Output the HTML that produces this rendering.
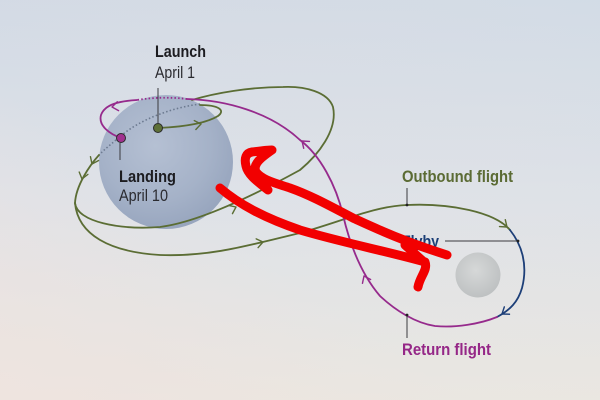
<!DOCTYPE html>
<html>
<head>
<meta charset="utf-8">
<style>
  html,body{margin:0;padding:0;width:600px;height:400px;overflow:hidden;}
  svg{display:block;}
  .b{font-family:"Liberation Sans Narrow","Liberation Sans",sans-serif;font-weight:bold;font-size:17px;}
  .r{font-family:"Liberation Sans Narrow","Liberation Sans",sans-serif;font-weight:normal;font-size:17px;}
</style>
</head>
<body>
<svg width="600" height="400" viewBox="0 0 600 400" xmlns="http://www.w3.org/2000/svg">
  <defs>
    <linearGradient id="bg" x1="0" y1="0" x2="0" y2="1">
      <stop offset="0" stop-color="#d2dae5"/>
      <stop offset="0.5" stop-color="#dee2e8"/>
      <stop offset="1" stop-color="#eae7e1"/>
    </linearGradient>
    <linearGradient id="bg2" x1="0" y1="1" x2="1" y2="0">
      <stop offset="0" stop-color="#f0e2de" stop-opacity="0.7"/>
      <stop offset="0.4" stop-color="#f0e2de" stop-opacity="0"/>
      <stop offset="1" stop-color="#d3e0e8" stop-opacity="0.3"/>
    </linearGradient>
    <radialGradient id="earth" cx="0.42" cy="0.38" r="0.68">
      <stop offset="0" stop-color="#b5c0d3"/>
      <stop offset="0.6" stop-color="#a5b2c8"/>
      <stop offset="1" stop-color="#95a3bc"/>
    </radialGradient>
    <radialGradient id="moon" cx="0.45" cy="0.4" r="0.65">
      <stop offset="0" stop-color="#d6d8d8"/>
      <stop offset="1" stop-color="#bcbfc0"/>
    </radialGradient>
  </defs>

  <rect width="600" height="400" fill="url(#bg)"/>
  <rect width="600" height="400" fill="url(#bg2)"/>

  <!-- Earth and Moon -->
  <circle cx="166" cy="162" r="67" fill="url(#earth)"/>
  <circle cx="478" cy="275" r="22.5" fill="url(#moon)"/>

  <!-- dotted arcs behind Earth -->
  <path d="M200,104 C170,108 140,120 122,135 S104,150 99,155" fill="none" stroke="#6c7a90" stroke-width="1.6" stroke-dasharray="1.5,2.2"/>
  <path d="M187,99 Q162,96 137,100" fill="none" stroke="#962a8c" stroke-width="1.8" stroke-dasharray="1.5,2.2"/>

  <g fill="none" stroke-width="1.8" stroke-linecap="round">
    <path d="M158,128 C180,127 205,124 218,116 C226,110 218,105 200,105" stroke="#5b6d34"/>
    <path d="M99,155 C90,165 76,185 75,203" stroke="#5b6d34"/>
    <path d="M75,203 C77,222 120,230 160,227 C200,222 260,192 300,170 C318,155 338,130 333,107 C328,92 305,86 283,87 C250,87 215,93 192,100" stroke="#5b6d34"/>
    <path d="M75,203 C78,235 110,252 160,255 C210,257 250,245 300,233 C340,222 375,206 407,205 C450,203 495,212 510,230" stroke="#5b6d34"/>
    <path d="M510,230 C522,245 528,265 522,288 C518,302 510,310 497,317" stroke="#1d3f78"/>
    <path d="M497,317 C480,324 455,328 435,326 C415,323 395,310 380,296 C362,275 350,245 343,215 C336,185 320,155 300,140 C270,112 225,100 187,99" stroke="#962a8c"/>
    <path d="M137,100 C120,101 105,104 101,115 C98,126 110,134 121,138" stroke="#962a8c"/>
  </g>

  <!-- arrowheads -->
  <g fill="none" stroke-width="1.4" stroke-linecap="round" stroke-linejoin="round">
    <polyline points="-6,-4.5 0,0 -6,4.5" stroke="#5b6d34" transform="translate(201,124) rotate(-10)"/>
    <polyline points="-6,-4.5 0,0 -6,4.5" stroke="#5b6d34" transform="translate(92,164) rotate(115)"/>
    <polyline points="-6,-4.5 0,0 -6,4.5" stroke="#5b6d34" transform="translate(82,179) rotate(105)"/>
    <polyline points="-6,-4.5 0,0 -6,4.5" stroke="#5b6d34" transform="translate(236,207) rotate(-25)"/>
    <polyline points="-6,-4.5 0,0 -6,4.5" stroke="#5b6d34" transform="translate(263,242) rotate(-12)"/>
    <polyline points="-6,-4.5 0,0 -6,4.5" stroke="#5b6d34" transform="translate(507,227) rotate(40)"/>
    <polyline points="-6,-4.5 0,0 -6,4.5" stroke="#1d3f78" transform="translate(502,314) rotate(145)"/>
    <polyline points="-6,-4.5 0,0 -6,4.5" stroke="#962a8c" transform="translate(364,276) rotate(-115)"/>
    <polyline points="-6,-4.5 0,0 -6,4.5" stroke="#962a8c" transform="translate(302,141) rotate(-140)"/>
    <polyline points="-6,-4.5 0,0 -6,4.5" stroke="#962a8c" transform="translate(112,107) rotate(172)"/>
  </g>

  <!-- leader lines -->
  <g stroke="#3a3a3e" stroke-width="1">
    <line x1="158" y1="88" x2="158" y2="123"/>
    <line x1="120" y1="143" x2="120" y2="160"/>
    <line x1="407" y1="188" x2="407" y2="205"/>
    <line x1="445" y1="241" x2="518" y2="241"/>
    <line x1="407" y1="315" x2="407" y2="338"/>
  </g>
  <g fill="#222">
    <circle cx="407" cy="205" r="1.4"/>
    <circle cx="518" cy="241" r="1.4"/>
    <circle cx="407" cy="315" r="1.4"/>
  </g>

  <!-- dots -->
  <circle cx="158" cy="128" r="4.5" fill="#5e7038" stroke="#2a2a2a" stroke-width="1"/>
  <circle cx="121" cy="138" r="4.5" fill="#a0308f" stroke="#2a2a2a" stroke-width="1"/>

  <!-- labels -->
  <text class="b" x="155" y="57" fill="#1c1c20" textLength="51" lengthAdjust="spacingAndGlyphs">Launch</text>
  <text class="r" x="155" y="78" fill="#2b2b30" textLength="40" lengthAdjust="spacingAndGlyphs">April 1</text>
  <text class="b" x="119" y="182" fill="#1c1c20" textLength="57" lengthAdjust="spacingAndGlyphs">Landing</text>
  <text class="r" x="119" y="201" fill="#2b2b30" textLength="49" lengthAdjust="spacingAndGlyphs">April 10</text>
  <text class="b" x="402" y="182" fill="#5b6b34" textLength="111" lengthAdjust="spacingAndGlyphs">Outbound flight</text>
  <text class="b" x="402" y="247" fill="#1b3e76" textLength="37" lengthAdjust="spacingAndGlyphs">Flyby</text>
  <text class="b" x="402" y="355" fill="#952787" textLength="89" lengthAdjust="spacingAndGlyphs">Return flight</text>

  <!-- red scribble -->
  <g fill="none" stroke="#f20000" stroke-width="9" stroke-linecap="round" stroke-linejoin="round">
    <path d="M268,190 C258,182 248,175 246,166 C244,158 246,153 252,152 C260,151 268,150 272,150 C262,157 252,164 256,172 C262,180 275,183 290,188 C310,195 330,206 353,218 C375,228 400,240 447,255"/>
    <path d="M220,188 C240,205 265,218 300,230 C340,242 390,252 425,262 C428,270 420,276 418,287"/>
    <path d="M405,245 L424,262"/>
  </g>
</svg>
</body>
</html>
